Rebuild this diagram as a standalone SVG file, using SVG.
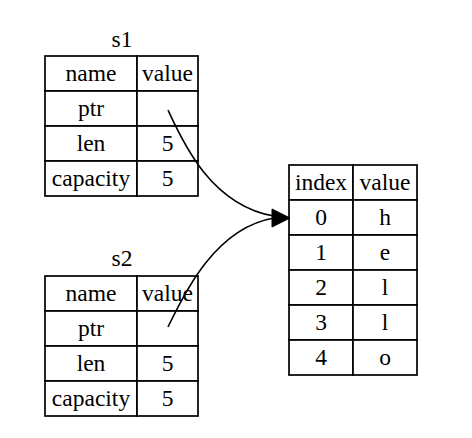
<svg xmlns="http://www.w3.org/2000/svg" width="472" height="438" viewBox="0 0 472 438">
<style>
.c{fill:#fff;stroke:#000;stroke-width:1.7}
.t{font-family:'Liberation Serif','DejaVu Serif','Times New Roman',Times,serif;font-size:23.5px;fill:#000;text-anchor:middle}
.e{fill:none;stroke:#000;stroke-width:1.6}
</style>
<rect width="472" height="438" fill="#fff"/>
<g id="s1">
<text class="t" x="122" y="47">s1</text>
<rect class="c" x="45" y="56" width="92" height="35"/><rect class="c" x="137" y="56" width="61" height="35"/>
<rect class="c" x="45" y="91" width="92" height="35"/><rect class="c" x="137" y="91" width="61" height="35"/>
<rect class="c" x="45" y="126" width="92" height="35"/><rect class="c" x="137" y="126" width="61" height="35"/>
<rect class="c" x="45" y="161" width="92" height="35"/><rect class="c" x="137" y="161" width="61" height="35"/>
<text class="t" x="91" y="81">name</text><text class="t" x="167.5" y="81">value</text>
<text class="t" x="91" y="116">ptr</text>
<text class="t" x="91" y="151">len</text><text class="t" x="167.5" y="151">5</text>
<text class="t" x="91" y="186">capacity</text><text class="t" x="167.5" y="186">5</text>
</g>
<g id="s2">
<text class="t" x="122" y="266">s2</text>
<rect class="c" x="45" y="276" width="92" height="35"/><rect class="c" x="137" y="276" width="61" height="35"/>
<rect class="c" x="45" y="311" width="92" height="35"/><rect class="c" x="137" y="311" width="61" height="35"/>
<rect class="c" x="45" y="346" width="92" height="35"/><rect class="c" x="137" y="346" width="61" height="35"/>
<rect class="c" x="45" y="381" width="92" height="35"/><rect class="c" x="137" y="381" width="61" height="35"/>
<text class="t" x="91" y="301">name</text><text class="t" x="167.5" y="301">value</text>
<text class="t" x="91" y="336">ptr</text>
<text class="t" x="91" y="371">len</text><text class="t" x="167.5" y="371">5</text>
<text class="t" x="91" y="406">capacity</text><text class="t" x="167.5" y="406">5</text>
</g>
<g id="heap">
<rect class="c" x="289" y="165" width="64" height="35"/><rect class="c" x="353" y="165" width="64" height="35"/>
<rect class="c" x="289" y="200" width="64" height="35"/><rect class="c" x="353" y="200" width="64" height="35"/>
<rect class="c" x="289" y="235" width="64" height="35"/><rect class="c" x="353" y="235" width="64" height="35"/>
<rect class="c" x="289" y="270" width="64" height="35"/><rect class="c" x="353" y="270" width="64" height="35"/>
<rect class="c" x="289" y="305" width="64" height="35"/><rect class="c" x="353" y="305" width="64" height="35"/>
<rect class="c" x="289" y="340" width="64" height="35"/><rect class="c" x="353" y="340" width="64" height="35"/>
<text class="t" x="321" y="190">index</text><text class="t" x="385" y="190">value</text>
<text class="t" x="321" y="225">0</text><text class="t" x="385" y="225">h</text>
<text class="t" x="321" y="260">1</text><text class="t" x="385" y="260">e</text>
<text class="t" x="321" y="295">2</text><text class="t" x="385" y="295">l</text>
<text class="t" x="321" y="330">3</text><text class="t" x="385" y="330">l</text>
<text class="t" x="321" y="365">4</text><text class="t" x="385" y="365">o</text>
</g>
<g id="edges">
<path class="e" d="M168,110 C182,140 210,205 274,216"/>
<path class="e" d="M168,327 C184,294 215,228 274,218"/>
<polygon points="272,209 290,218 272,227" fill="#000" stroke="#000" stroke-width="1"/>
</g>
</svg>
